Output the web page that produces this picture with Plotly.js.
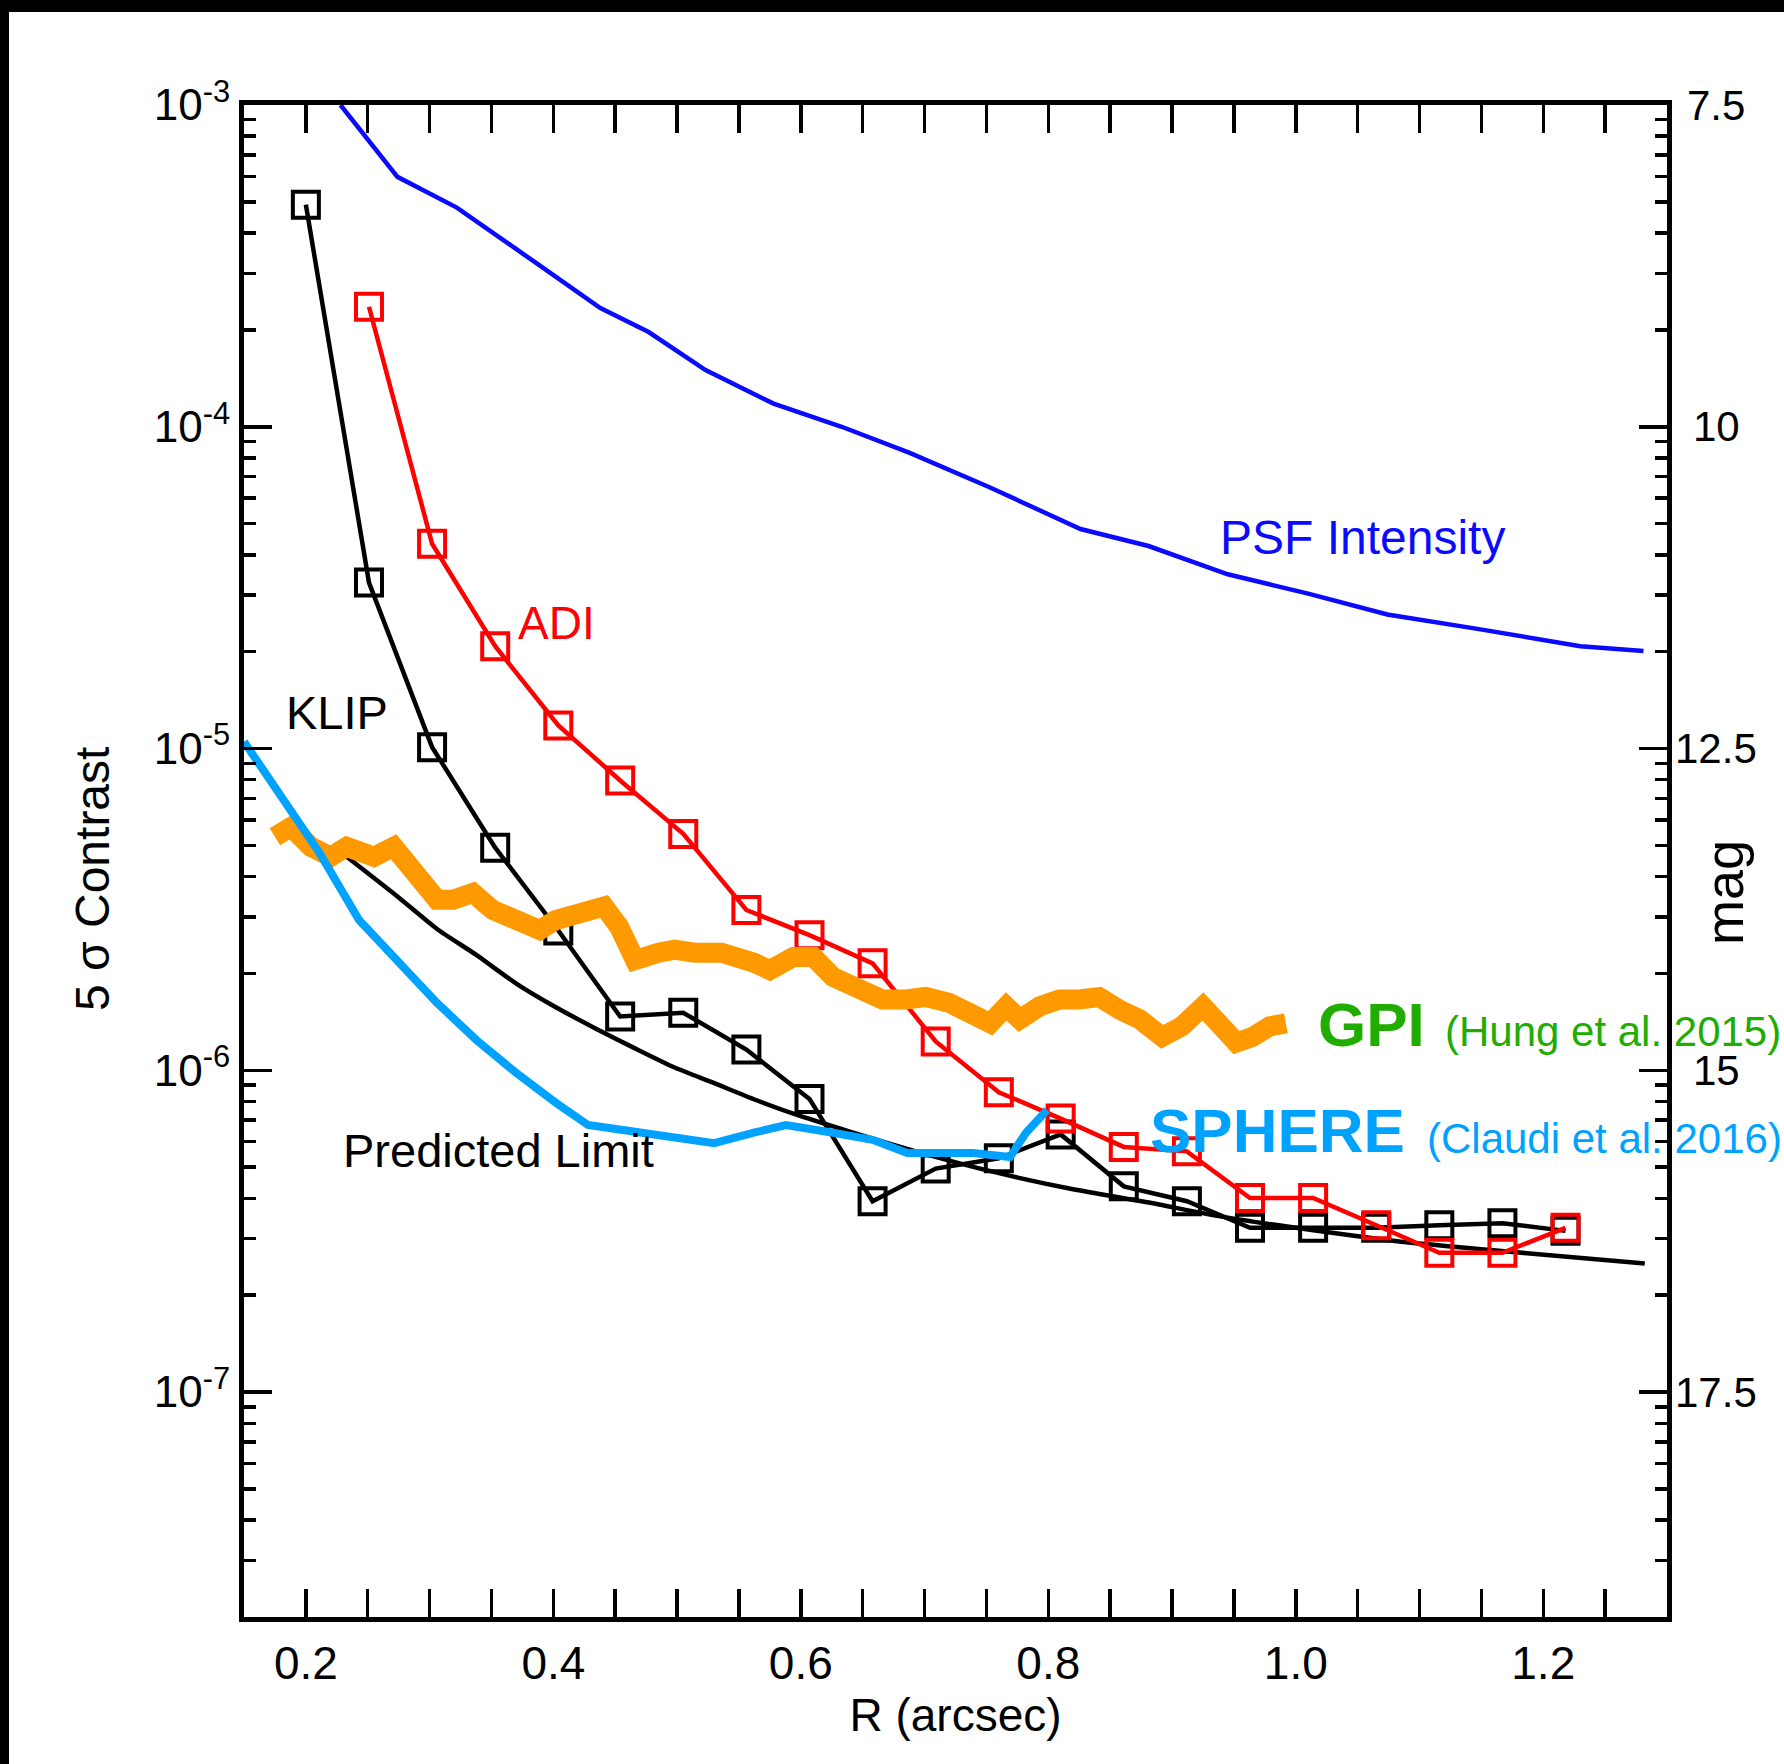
<!DOCTYPE html>
<html>
<head>
<meta charset="utf-8">
<script src="https://cdn.plot.ly/plotly-3.0.1.min.js"></script>
<style>
  html, body { margin: 0; padding: 0; background: #ffffff; }
  #chart { width: 1784px; height: 1764px; }
</style>
</head>
<body>
<div id="chart"></div>
<script>
// ---------------- data ----------------
const psfR = [0.228,0.274,0.322,0.366,0.386,0.438,0.477,0.523,0.578,0.633,0.688,0.752,0.826,0.881,0.945,1.010,1.074,1.148,1.230,1.281];
const psfC = [1.0e-3,5.98e-4,4.8e-4,3.68e-4,3.23e-4,2.34e-4,1.97e-4,1.50e-4,1.18e-4,1.0e-4,8.3e-5,6.5e-5,4.81e-5,4.26e-5,3.48e-5,3.03e-5,2.61e-5,2.35e-5,2.08e-5,2.01e-5];

const klipR = [0.200,0.251,0.302,0.353,0.404,0.454,0.505,0.556,0.607,0.658,0.709,0.760,0.810,0.861,0.912,0.963,1.014,1.065,1.116,1.167,1.218];
const klipC = [4.9e-4,3.28e-5,1.01e-5,4.92e-6,2.72e-6,1.47e-6,1.51e-6,1.16e-6,8.15e-7,3.92e-7,4.95e-7,5.33e-7,6.32e-7,4.36e-7,3.92e-7,3.24e-7,3.24e-7,3.24e-7,3.30e-7,3.35e-7,3.17e-7];

const adiR = [0.251,0.302,0.353,0.404,0.454,0.505,0.556,0.607,0.658,0.709,0.760,0.810,0.861,0.912,0.963,1.014,1.065,1.116,1.167,1.218];
const adiC = [2.36e-4,4.33e-5,2.08e-5,1.18e-5,7.96e-6,5.43e-6,3.15e-6,2.63e-6,2.15e-6,1.23e-6,8.55e-7,7.08e-7,5.78e-7,5.60e-7,4.01e-7,4.01e-7,3.30e-7,2.71e-7,2.71e-7,3.24e-7];

const predR = [0.233,0.274,0.306,0.338,0.370,0.402,0.434,0.466,0.498,0.530,0.562,0.594,0.639,0.700,0.760,0.820,0.880,0.940,1.000,1.080,1.178,1.282];
const predC = [4.61e-6,3.47e-6,2.75e-6,2.28e-6,1.86e-6,1.57e-6,1.35e-6,1.17e-6,1.02e-6,9.12e-7,8.13e-7,7.33e-7,6.46e-7,5.50e-7,4.79e-7,4.27e-7,3.89e-7,3.51e-7,3.24e-7,2.95e-7,2.72e-7,2.51e-7];

const gpiR = [0.175,0.188,0.204,0.220,0.233,0.243,0.255,0.271,0.281,0.294,0.306,0.319,0.335,0.351,0.370,0.389,0.402,0.425,0.441,0.453,0.466,0.485,0.498,0.514,0.536,0.562,0.575,0.594,0.610,0.626,0.648,0.666,0.685,0.701,0.720,0.739,0.753,0.766,0.777,0.793,0.809,0.825,0.841,0.858,0.874,0.892,0.908,0.925,0.938,0.952,0.965,0.979,0.992];
const gpiC = [5.32e-6,5.71e-6,4.95e-6,4.61e-6,4.95e-6,4.74e-6,4.61e-6,4.95e-6,4.41e-6,3.91e-6,3.39e-6,3.39e-6,3.56e-6,3.15e-6,2.93e-6,2.73e-6,2.93e-6,3.15e-6,3.23e-6,2.80e-6,2.20e-6,2.32e-6,2.37e-6,2.32e-6,2.32e-6,2.16e-6,2.05e-6,2.25e-6,2.25e-6,1.95e-6,1.78e-6,1.66e-6,1.66e-6,1.69e-6,1.62e-6,1.51e-6,1.40e-6,1.58e-6,1.44e-6,1.58e-6,1.66e-6,1.66e-6,1.69e-6,1.54e-6,1.44e-6,1.27e-6,1.37e-6,1.58e-6,1.37e-6,1.22e-6,1.27e-6,1.37e-6,1.40e-6];

const sphR = [0.150,0.179,0.211,0.243,0.274,0.306,0.338,0.370,0.402,0.428,0.466,0.498,0.530,0.562,0.588,0.626,0.658,0.686,0.712,0.739,0.769,0.782,0.799];
const sphC = [1.05e-5,7.28e-6,4.74e-6,2.93e-6,2.20e-6,1.62e-6,1.24e-6,9.82e-7,7.93e-7,6.76e-7,6.44e-7,6.21e-7,5.94e-7,6.40e-7,6.76e-7,6.40e-7,6.08e-7,5.53e-7,5.53e-7,5.53e-7,5.38e-7,6.40e-7,7.53e-7];

const yTickVals = [1e-7, 1e-6, 1e-5, 1e-4, 1e-3];
const yTickText = ['10<sup>-7</sup>', '10<sup>-6</sup>', '10<sup>-5</sup>', '10<sup>-4</sup>', '10<sup>-3</sup>'];
const magTicks = [7.5, 10, 12.5, 15, 17.5];
const magLabels = ['7.5', '10', '12.5', '15', '17.5'];

// ---------------- layout helpers ----------------
const W = 1784, H = 1764;
const L = 244, R = 1667, T = 105, B = 1617;
const px = x => (x - L) / (R - L);
const py = y => (B - y) / (B - T);
const FONT = 'Liberation Sans, Arial, Helvetica, sans-serif';
const yMin = 2e-8, yMax = 1e-3;

// minor log ticks (2..9 in every decade inside the range)
const yMinorVals = [];
for (let d = -8; d <= -4; d++) {
  for (let k = 2; k <= 9; k++) {
    const v = k * Math.pow(10, d);
    if (v >= yMin && v <= yMax) yMinorVals.push(v);
  }
}

const traces = [
  { x: psfR, y: psfC, mode: 'lines', line: { color: '#0a0aff', width: 4.5 } },
  { x: predR, y: predC, mode: 'lines', line: { color: '#000000', width: 4.5, shape: 'spline', smoothing: 0.6 } },
  { x: klipR, y: klipC, mode: 'lines+markers', line: { color: '#000000', width: 4.5 },
    marker: { symbol: 'square-open', size: 26, color: '#000000', line: { width: 4 } } },
  { x: adiR, y: adiC, mode: 'lines+markers', line: { color: '#ff0000', width: 4.5 },
    marker: { symbol: 'square-open', size: 26, color: '#ff0000', line: { width: 4 } } },
  { x: gpiR, y: gpiC, mode: 'lines', line: { color: '#ff9900', width: 20 } },
  { x: sphR, y: sphC, mode: 'lines', line: { color: '#00a2ff', width: 8 } },
  // empty trace so that the magnitude axis (y2) is created
  { x: [], y: [], xaxis: 'x', yaxis: 'y2', mode: 'lines', hoverinfo: 'skip' }
];

function ann(text, x, y, size, color, extra) {
  return Object.assign({ text: text, x: px(x), y: py(y), xref: 'paper', yref: 'paper',
    showarrow: false, xanchor: 'center', yanchor: 'middle',
    font: { family: FONT, size: size, color: color } }, extra || {});
}

// centred magnitude labels on the right-hand (mag) axis
const magAnnotations = magTicks.map((m, i) => ({
  text: magLabels[i], x: px(1716), xref: 'paper', y: m, yref: 'y2',
  showarrow: false, xanchor: 'center', yanchor: 'middle',
  font: { family: FONT, size: 42, color: '#000000' }
}));

const layout = {
  width: W, height: H,
  paper_bgcolor: '#ffffff', plot_bgcolor: '#ffffff',
  margin: { l: L, r: W - R, t: T, b: H - B, pad: 0 },
  showlegend: false,
  font: { family: FONT, color: '#000000' },
  xaxis: {
    range: [0.15, 1.3], tick0: 0, dtick: 0.2, tickformat: '.1f',
    ticks: 'inside', ticklen: 28, tickwidth: 3.5, tickcolor: '#000',
    minor: { tick0: 0, dtick: 0.05, ticks: 'inside', ticklen: 12, tickwidth: 3.5, tickcolor: '#000', showgrid: false },
    showline: true, linewidth: 5, linecolor: '#000', mirror: 'allticks',
    showgrid: false, zeroline: false,
    tickfont: { family: FONT, size: 46, color: '#000' },
    ticklabelstandoff: 2,
    title: { text: 'R (arcsec)', font: { family: FONT, size: 46, color: '#000' }, standoff: 10 }
  },
  yaxis: {
    type: 'log', range: [Math.log10(yMin), Math.log10(yMax)],
    tickmode: 'array', tickvals: yTickVals, ticktext: yTickText,
    ticks: 'inside', ticklen: 28, tickwidth: 3.5, tickcolor: '#000',
    minor: { tickmode: 'array', tickvals: yMinorVals, ticks: 'inside', ticklen: 12, tickwidth: 3.5, tickcolor: '#000', showgrid: false },
    showline: true, linewidth: 5, linecolor: '#000', mirror: 'allticks',
    showgrid: false, zeroline: false,
    tickfont: { family: FONT, size: 44, color: '#000' },
    ticklabelstandoff: 0
  },
  yaxis2: {
    overlaying: 'y', side: 'right', anchor: 'x',
    range: [-2.5 * Math.log10(yMin), -2.5 * Math.log10(yMax)],
    showticklabels: false,
    ticks: '', showline: false, showgrid: false, zeroline: false
  },
  annotations: [
    ann('5 σ Contrast', 93, 879, 48, '#000000', { textangle: -90 }),
    ann('PSF Intensity', 1362, 537, 48, '#0a0aff'),
    ann('ADI', 556, 623, 46, '#ff0000'),
    ann('KLIP', 337, 712, 47, '#000000'),
    ann('Predicted Limit', 498, 1150, 47, '#000000'),
    ann('<b>GPI</b>', 1371, 1024, 62, '#21ad00'),
    ann('(Hung et al. 2015)', 1613, 1031, 42, '#21ad00'),
    ann('<b>SPHERE</b>', 1277, 1130, 62, '#00a2ff'),
    ann('(Claudi et al. 2016)', 1604, 1138, 42, '#00a2ff'),
    ann('mag', 1724, 893, 54, '#000000', { textangle: -90 })
  ].concat(magAnnotations),
  shapes: [
    { type: 'rect', xref: 'paper', yref: 'paper', x0: px(0), x1: px(W), y0: py(12), y1: py(0),
      fillcolor: '#000000', line: { width: 0 }, layer: 'above' },
    { type: 'rect', xref: 'paper', yref: 'paper', x0: px(0), x1: px(9), y0: py(H), y1: py(0),
      fillcolor: '#000000', line: { width: 0 }, layer: 'above' }
  ]
};

Plotly.newPlot('chart', traces, layout, { staticPlot: true, displayModeBar: false });
</script>
</body>
</html>
